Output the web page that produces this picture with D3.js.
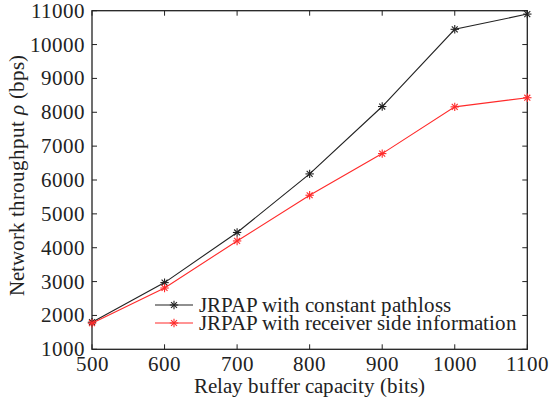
<!DOCTYPE html>
<html><head><meta charset="utf-8">
<script src="https://cdn.jsdelivr.net/npm/d3@7"></script>
<style>
@font-face{font-family:"ChartSerif";src:local("Liberation Serif"),local("LiberationSerif"),local("Liberation Serif Regular"),local("LiberationSerif-Regular");font-style:normal;font-weight:400;}
@font-face{font-family:"ChartSerif";src:local("Liberation Serif Italic"),local("LiberationSerif-Italic");font-style:italic;font-weight:400;}
body{margin:0;background:#fff}
</style>
</head><body>
<script>
const capacities = [500, 600, 700, 800, 900, 1000, 1100];
const constantPathloss = [1800, 2970, 4450, 6180, 8170, 10450, 10900];
const receiverSideInfo = [1770, 2810, 4200, 5550, 6780, 8160, 8430];
const xTicks = [500, 600, 700, 800, 900, 1000, 1100];
const yTicks = [1000, 2000, 3000, 4000, 5000, 6000, 7000, 8000, 9000, 10000, 11000];
const seriesNames = ["JRPAP with constant pathloss", "JRPAP with receiver side information"];
const seriesColors = ["#222222", "#ff2a2a"];

const W = 551, H = 409;
const FONT = '"ChartSerif", "Liberation Serif", "Times New Roman", serif';
const fs = 21;
const m = {l: 92, t: 10.7, r: 551 - 527.3, b: 409 - 349.3};
const svg = d3.select("body").append("svg").attr("width", W).attr("height", H);
const x = d3.scaleLinear().domain([500, 1100]).range([m.l, W - m.r]);
const y = d3.scaleLinear().domain([1000, 11000]).range([H - m.b, m.t]);

function label(sel, px, py, txt, anchor){
  return sel.append("text").attr("x",px).attr("y",py).attr("text-anchor",anchor||"start")
    .attr("fill","#222").style("font-family",FONT).style("font-size",fs+"px").text(txt);
}

const tl = 5;
const frame = svg.append("g").attr("stroke","#222").attr("stroke-width",1);
xTicks.forEach(t=>{
  frame.append("line").attr("x1",x(t)).attr("x2",x(t)).attr("y1",y(1000)).attr("y2",y(1000)-tl);
  frame.append("line").attr("x1",x(t)).attr("x2",x(t)).attr("y1",y(11000)).attr("y2",y(11000)+tl);
});
yTicks.forEach(t=>{
  frame.append("line").attr("x1",x(500)).attr("x2",x(500)+tl).attr("y1",y(t)).attr("y2",y(t));
  frame.append("line").attr("x1",x(1100)).attr("x2",x(1100)-tl).attr("y1",y(t)).attr("y2",y(t));
});
svg.append("rect").attr("x",m.l).attr("y",m.t).attr("width",W-m.r-m.l).attr("height",H-m.b-m.t).attr("fill","none").attr("stroke","#222").attr("stroke-width",1.3);
xTicks.forEach(t=>label(svg, x(t), y(1000)+22, String(t), "middle"));
yTicks.forEach(t=>label(svg, x(500)-7, y(t)+7, String(t), "end"));

function star(sel, cx, cy, color){
  const r = 4.2;
  const gg = sel.append("g").attr("transform",`translate(${cx},${cy})`);
  [0,45,90,135].forEach(a=>{
    const rad = a*Math.PI/180;
    gg.append("line").attr("x1",-r*Math.cos(rad)).attr("y1",-r*Math.sin(rad)).attr("x2",r*Math.cos(rad)).attr("y2",r*Math.sin(rad)).attr("stroke",color).attr("stroke-width",1.1);
  });
}
const series = [constantPathloss, receiverSideInfo];
const line = d3.line().x((d,i)=>x(capacities[i])).y(d=>y(d));
series.forEach((s,k)=>{
  svg.append("path").datum(s).attr("d",line).attr("fill","none").attr("stroke",seriesColors[k]).attr("stroke-width",1.1);
  s.forEach((v,i)=>star(svg, x(capacities[i]), y(v), seriesColors[k]));
});

const legY = [305, 323];
series.forEach((s,k)=>{
  svg.append("line").attr("x1",155).attr("x2",193).attr("y1",legY[k]).attr("y2",legY[k]).attr("stroke",seriesColors[k]).attr("stroke-width",1.1);
  star(svg, 174, legY[k], seriesColors[k]);
  label(svg, 199, legY[k]+7, seriesNames[k]);
});

label(svg, (m.l+W-m.r)/2, 393, "Relay buffer capacity (bits)", "middle");
const cy = (m.t+H-m.b)/2 - 5;
const yl = svg.append("g").attr("transform",`translate(24,${cy}) rotate(-90)`);
const t1 = label(yl, 0, 0, "Network throughput", "start");
const t2 = yl.append("text").attr("fill","#222").style("font-family",FONT).style("font-size",fs+"px").style("font-style","italic").text("\u03c1");
const t3 = label(yl, 0, 0, "(bps)", "start");
function placeYLabel(){
  const gap = 6;
  const w1 = t1.node().getComputedTextLength(), w2 = t2.node().getComputedTextLength(), w3 = t3.node().getComputedTextLength();
  const x0 = -(w1+w2+w3+2*gap)/2;
  t1.attr("x", x0); t2.attr("x", x0+w1+gap); t3.attr("x", x0+w1+w2+2*gap);
}
placeYLabel();
if (document.fonts && document.fonts.ready) document.fonts.ready.then(placeYLabel);
</script>
</body></html>
